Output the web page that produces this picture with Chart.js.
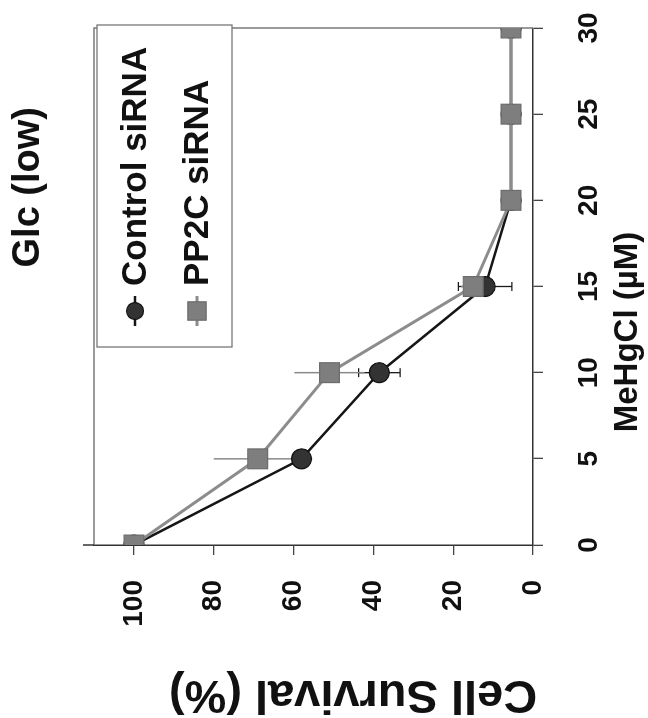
<!DOCTYPE html>
<html>
<head>
<meta charset="utf-8">
<script src="https://cdn.jsdelivr.net/npm/chart.js@4.4.0/dist/chart.umd.min.js"></script>
<style>
  html, body { margin: 0; padding: 0; background: #fff; }
  #page { position: relative; width: 648px; height: 718px; overflow: hidden; }
  /* the figure in the reference is the plot turned a quarter turn counter-clockwise */
  #turned { position: absolute; left: 0; top: 0; width: 718px; height: 648px;
    transform-origin: 0 0; transform: translate(0, 718px) rotate(-90deg); }
</style>
</head>
<body>
<div id="page"><div id="turned"><canvas id="chart" width="718" height="648"></canvas></div></div>
<script>
// values
const doses = [0, 5, 10, 15, 20, 25, 30];
const controlSurvival = [100, 58, 38.5, 12, 5.5, 5.5, 5.5];
const controlError = [0, 2, 5.2, 6.7, 0, 0, 0];
const pp2cSurvival = [100, 69, 51, 15, 5.5, 5.5, 5.5];
const pp2cError = [0, 11, 8.8, 3, 0, 0, 0];
const doseTicks = [0, 5, 10, 15, 20, 25, 30];
const survivalTicks = [0, 20, 40, 60, 80, 100];
const seriesNames = ['Control siRNA', 'PP2C siRNA'];
const chartTitle = 'Glc (low)';
const xTitle = 'MeHgCl (\u00b5M)';
const yTitle = 'Cell Survival (%)';

const FONT = '"Liberation Sans", Arial, Helvetica, sans-serif';

const toPoints = (ys) => doses.map((x, i) => ({ x: x, y: ys[i] }));

const series = [
  { name: seriesNames[0], values: controlSurvival, errors: controlError, shape: 'circle',
    line: '#161616', fill: '#333333', edge: '#111111', lineWidth: 2.5, radius: 10,
    errColor: '#1a1a1a', errWidth: 1.3, caps: true, order: 1 },
  { name: seriesNames[1], values: pp2cSurvival, errors: pp2cError, shape: 'rect',
    line: '#8c8c8c', fill: '#7e7e7e', edge: '#6c6c6c', lineWidth: 3, radius: 14,
    errColor: '#8a8a8a', errWidth: 1.5, caps: false, order: 0 }
];

// error bars drawn under the markers
const errorBars = {
  id: 'errorBars',
  beforeDatasetsDraw(chart) {
    const ctx = chart.ctx;
    const xs = chart.scales.x, ys = chart.scales.y;
    series.forEach(s => {
      ctx.save();
      ctx.strokeStyle = s.errColor;
      ctx.lineWidth = s.errWidth;
      s.errors.forEach((e, i) => {
        if (!e) return;
        const px = xs.getPixelForValue(doses[i]);
        const hi = ys.getPixelForValue(s.values[i] + e);
        const lo = ys.getPixelForValue(s.values[i] - e);
        ctx.beginPath();
        ctx.moveTo(px, hi);
        ctx.lineTo(px, lo);
        if (s.caps) {
          ctx.moveTo(px - 4.5, hi); ctx.lineTo(px + 4.5, hi);
          ctx.moveTo(px - 4.5, lo); ctx.lineTo(px + 4.5, lo);
        }
        ctx.stroke();
      });
      ctx.restore();
    });
  }
};

// plot frame (top / right) and the bit of y axis sticking out above it
const frame = {
  id: 'frame',
  beforeDatasetsDraw(chart) {
    const { ctx, chartArea: a } = chart;
    ctx.save();
    ctx.strokeStyle = '#7a7a7a';
    ctx.lineWidth = 1.5;
    ctx.beginPath();
    ctx.moveTo(a.left, a.top);
    ctx.lineTo(a.right, a.top);
    ctx.lineTo(a.right, a.bottom);
    ctx.stroke();
    ctx.strokeStyle = '#333';
    ctx.beginPath();
    ctx.moveTo(a.left, a.top - 11);
    ctx.lineTo(a.left, a.top);
    ctx.stroke();
    ctx.restore();
  }
};

function drawMarker(ctx, s, x, y, r) {
  ctx.fillStyle = s.fill;
  ctx.strokeStyle = s.edge;
  ctx.lineWidth = 1.2;
  ctx.beginPath();
  if (s.shape === 'circle') {
    ctx.arc(x, y, r, 0, Math.PI * 2);
  } else {
    const h = r * Math.SQRT1_2;
    ctx.rect(x - h, y - h, 2 * h, 2 * h);
  }
  ctx.fill();
  ctx.stroke();
}

// boxed legend in the top right corner of the plot
const boxLegend = {
  id: 'boxLegend',
  afterDatasetsDraw(chart) {
    const { ctx, chartArea: a } = chart;
    const w = 322, h = 135;
    const left = a.right - w + 3, top = a.top + 3;
    ctx.save();
    ctx.fillStyle = '#fff';
    ctx.fillRect(left, top, w, h);
    ctx.strokeStyle = '#777';
    ctx.lineWidth = 1.3;
    ctx.strokeRect(left, top, w, h);
    const rows = [38, 100];
    series.forEach((s, i) => {
      const y = top + rows[i];
      ctx.strokeStyle = s.line;
      ctx.lineWidth = s.lineWidth;
      ctx.beginPath();
      ctx.moveTo(left + 21, y);
      ctx.lineTo(left + 51, y);
      ctx.stroke();
      drawMarker(ctx, s, left + 36, y, s.shape === 'circle' ? 8.5 : 13);
      ctx.fillStyle = '#111';
      ctx.font = 'bold 35px ' + FONT;
      ctx.textAlign = 'left';
      ctx.textBaseline = 'middle';
      ctx.fillText(s.name, left + 61, y + 1);
    });
    ctx.restore();
  }
};

// chart title and axis titles, placed where the figure has them
const titles = {
  id: 'titles',
  afterDraw(chart) {
    const { ctx, chartArea: a } = chart;
    ctx.save();
    ctx.fillStyle = '#111';
    ctx.textAlign = 'center';
    ctx.textBaseline = 'middle';
    ctx.font = 'bold 38px ' + FONT;
    ctx.fillText(chartTitle, a.left + a.width * 0.692, 29);
    ctx.font = 'bold 33px ' + FONT;
    ctx.fillText(xTitle, a.left + a.width * 0.412, a.bottom + 95);
    ctx.translate(24, a.top + a.height * 0.59);
    ctx.rotate(-Math.PI / 2);
    ctx.font = 'bold 47px ' + FONT;
    ctx.fillText(yTitle, 0, 0);
    ctx.restore();
  }
};

new Chart(document.getElementById('chart'), {
  type: 'line',
  data: {
    datasets: series.map(s => ({
      label: s.name,
      data: toPoints(s.values),
      order: s.order,
      borderColor: s.line,
      borderWidth: s.lineWidth,
      tension: 0,
      fill: false,
      pointStyle: s.shape,
      pointRadius: s.radius,
      pointHoverRadius: s.radius,
      pointBackgroundColor: s.fill,
      pointBorderColor: s.edge,
      pointBorderWidth: 1.2
    }))
  },
  options: {
    responsive: false,
    animation: false,
    layout: { padding: { top: 94, right: 28, left: 0, bottom: 0 } },
    plugins: {
      legend: { display: false },
      title: { display: false },
      tooltip: { enabled: false }
    },
    scales: {
      x: {
        type: 'linear',
        min: 0,
        max: 30,
        afterBuildTicks: (axis) => { axis.ticks = doseTicks.map(v => ({ value: v })); },
        afterFit: (axis) => { axis.height = 115; axis.paddingLeft = 0; axis.paddingRight = 0; },
        border: { color: '#333', width: 1.5 },
        grid: { drawOnChartArea: false, drawTicks: true, tickLength: 10, color: '#444', lineWidth: 1.3 },
        ticks: { color: '#111', padding: 29, maxRotation: 0, font: { family: FONT, size: 28, weight: 'bold' } }
      },
      y: {
        type: 'linear',
        min: 0,
        max: 110,
        afterBuildTicks: (axis) => { axis.ticks = survivalTicks.map(v => ({ value: v })); },
        afterFit: (axis) => { axis.width = 173; axis.paddingTop = 0; axis.paddingBottom = 0; },
        border: { color: '#333', width: 1.5 },
        grid: { drawOnChartArea: false, drawTicks: true, tickLength: 10, color: '#444', lineWidth: 1.3 },
        ticks: { color: '#111', padding: 25, font: { family: FONT, size: 28, weight: 'bold' } }
      }
    }
  },
  plugins: [frame, errorBars, boxLegend, titles]
});
</script>
</body>
</html>
